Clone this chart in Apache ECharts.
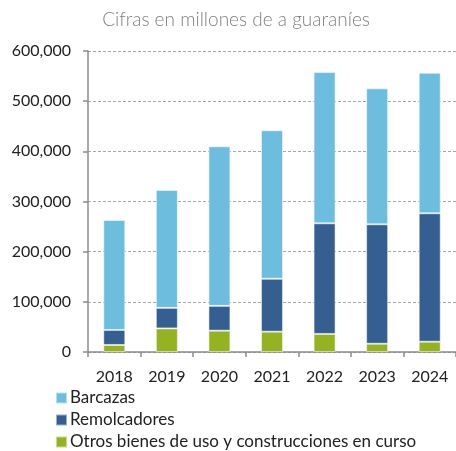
<!DOCTYPE html>
<html>
<head>
<meta charset="utf-8">
<script src="https://cdn.jsdelivr.net/npm/echarts@6/dist/echarts.min.js"></script>
<style>
  html, body { margin: 0; padding: 0; background: #fff; }
  #chart { width: 456px; height: 451px; }
</style>
</head>
<body>
<div id="chart"></div>
<script>
  // datos
  const years = ['2018', '2019', '2020', '2021', '2022', '2023', '2024']
  const otros = [14000, 47000, 42500, 40500, 36000, 16500, 20500]
  const remolcadores = [30000, 41000, 49500, 105500, 220500, 238000, 256000]
  const barcazas = [219000, 235000, 318000, 296000, 301500, 271000, 280000]
  const yTicks = [0, 100000, 200000, 300000, 400000, 500000, 600000]

  const font = 'Lato, "Liberation Sans", sans-serif'
  const chart = echarts.init(document.getElementById('chart'))

  const barStyle = (color) => ({
    color: color,
    borderColor: 'rgba(255,255,255,0.5)',
    borderWidth: 1
  })

  chart.setOption({
    animation: false,
    title: {
      text: 'Cifras en millones de a guaraníes',
      left: 231,
      textAlign: 'center',
      top: 5,
      textStyle: { fontFamily: font, fontWeight: 300, fontSize: 19, color: '#808080' }
    },
    legend: {
      orient: 'vertical',
      left: 50,
      top: 384,
      height: 66,
      itemWidth: 11,
      itemHeight: 11,
      itemGap: 4,
      icon: 'rect',
      data: ['Barcazas', 'Remolcadores', 'Otros bienes de uso y construcciones en curso'],
      textStyle: { fontFamily: font, fontSize: 17, lineHeight: 18, color: '#222', padding: [0, 0, 0, -2] }
    },
    grid: { left: 88, right: 0, top: 51, bottom: 99 },
    xAxis: {
      type: 'category',
      data: years,
      axisLine: { lineStyle: { color: '#8c8c8c', width: 1.5 } },
      axisTick: { show: true, length: 5, lineStyle: { color: '#8c8c8c', width: 1.5 } },
      axisLabel: { fontFamily: font, fontSize: 16, color: '#222', margin: 17 }
    },
    yAxis: {
      type: 'value',
      min: yTicks[0],
      max: yTicks[yTicks.length - 1],
      interval: 100000,
      axisLine: { show: true, lineStyle: { color: '#8c8c8c', width: 1.5 } },
      axisTick: { show: true, length: 5, lineStyle: { color: '#8c8c8c', width: 1.5 } },
      axisLabel: {
        fontFamily: font, fontSize: 16, color: '#222', margin: 17,
        formatter: (v) => v.toLocaleString('en-US')
      },
      splitLine: { lineStyle: { color: '#a6a6a6', type: [3, 2], width: 1 } }
    },
    series: [
      {
        name: 'Otros bienes de uso y construcciones en curso',
        type: 'bar', stack: 'total', barWidth: 22,
        data: otros, itemStyle: barStyle('#95b320')
      },
      {
        name: 'Remolcadores',
        type: 'bar', stack: 'total', barWidth: 22,
        data: remolcadores, itemStyle: barStyle('#365f91')
      },
      {
        name: 'Barcazas',
        type: 'bar', stack: 'total', barWidth: 22,
        data: barcazas, itemStyle: barStyle('#6dbddf')
      }
    ]
  })
</script>
</body>
</html>
